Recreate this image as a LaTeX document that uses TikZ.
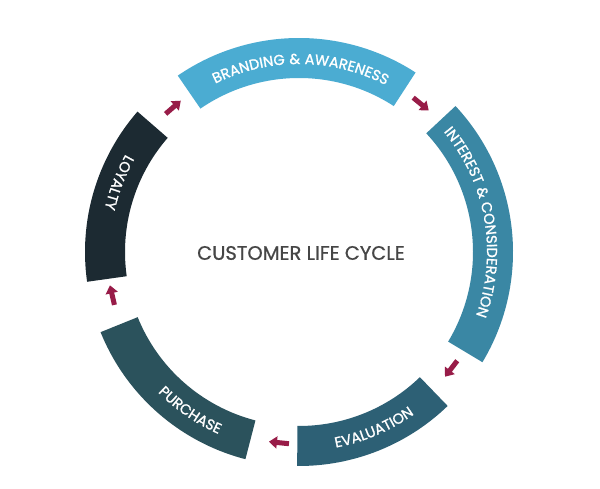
\documentclass[tikz,border=0pt]{standalone}
\usepackage{fontspec}
\setmainfont{Poppins}
\newfontfamily\segfont[LetterSpace=3,FakeBold=1.2]{Poppins}
\newfontfamily\titlefont[FakeBold=0.8]{Poppins}
\usetikzlibrary{decorations.text,arrows.meta}
\definecolor{cBrand}{RGB}{75,172,210}
\definecolor{cInterest}{RGB}{58,135,164}
\definecolor{cEval}{RGB}{45,96,117}
\definecolor{cPurch}{RGB}{43,82,92}
\definecolor{cLoyal}{RGB}{28,42,50}
\definecolor{cArrow}{RGB}{152,28,72}
\definecolor{cTitle}{RGB}{70,70,70}
\newcommand\ringseg[3]{\fill[#1] (#2:214pt) arc[start angle=#2, end angle=#3, radius=214pt] -- (#3:174pt) arc[start angle=#3, end angle=#2, radius=174pt] -- cycle;}
\begin{document}
\begin{tikzpicture}[x=1pt,y=1pt,
  arr/.style={draw=cArrow, line width=5pt, -{Triangle[width=12pt,length=8pt]}},
  segtext/.style={decorate, decoration={text along path, text align=center, text color=white}},
  titlestyle/.style={text=cTitle, font=\titlefont\fontsize{19.5}{22}\selectfont}]
\useasboundingbox (0,0) rectangle (600,489);
\fill[white] (0,0) rectangle (600,489);
\begin{scope}[shift={(299,237)}]
  \ringseg{cBrand}{57}{124.5}
  \ringseg{cInterest}{-31}{43}
  \ringseg{cEval}{-90.5}{-46}
  \ringseg{cPurch}{202}{255.5}
  \ringseg{cLoyal}{139}{188}
  % labels
  \path[segtext, decoration={text={|\segfont\fontsize{14.5}{17}\selectfont|BRANDING {\&} AWARENESS}}]
    (130:188pt) arc[start angle=130, end angle=49, radius=188pt];
  \path[segtext, decoration={text={|\segfont\fontsize{14.5}{17}\selectfont|INTEREST {\&} CONSIDERATION}}]
    (55:188pt) arc[start angle=55, end angle=-35, radius=188pt];
  \path[segtext, decoration={text={|\segfont\fontsize{14.5}{17}\selectfont|EVALUATION}}]
    (-107:199pt) arc[start angle=-107, end angle=-27, radius=199pt];
  \path[segtext, decoration={text={|\segfont\fontsize{14.5}{17}\selectfont|PURCHASE}}]
    (195.5:199pt) arc[start angle=195.5, end angle=275.5, radius=199pt];
  \path[segtext, decoration={text={|\segfont\fontsize{14.5}{17}\selectfont|LOYALTY}}]
    (119:199pt) arc[start angle=119, end angle=199, radius=199pt];
  % arrows
  \coordinate (a1s) at (134:192pt); \coordinate (a1e) at (128:192pt);
  \coordinate (a2s) at (53.5:192pt); \coordinate (a2e) at (47.5:192pt);
  \coordinate (a3s) at (-34.5:192pt); \coordinate (a3e) at (-40.5:192pt);
  \coordinate (a4s) at (-93:192pt); \coordinate (a4e) at (-99:192pt);
  \coordinate (a5s) at (196:192pt); \coordinate (a5e) at (190:192pt);
  \draw[arr] (a1s) -- (a1e);
  \draw[arr] (a2s) -- (a2e);
  \draw[arr] (a3s) -- (a3e);
  \draw[arr] (a4s) -- (a4e);
  \draw[arr] (a5s) -- (a5e);
  \node[titlestyle] (title) at (2,-1) {CUSTOMER LIFE CYCLE};
\end{scope}
\end{tikzpicture}
\end{document}
